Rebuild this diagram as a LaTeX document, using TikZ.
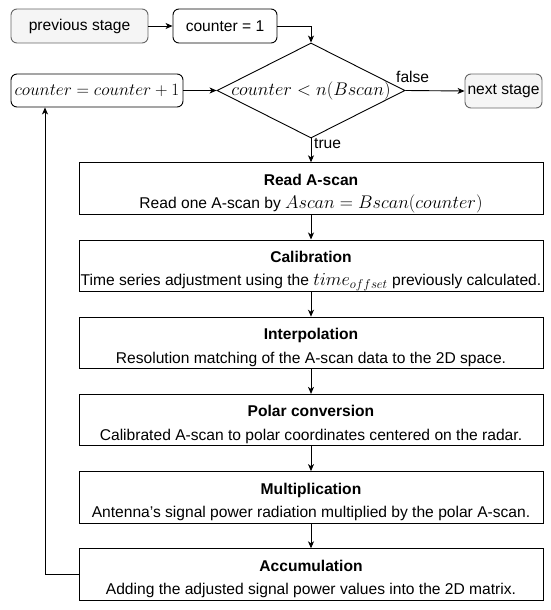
\RequirePackage{fix-cm}
\documentclass[tikz,border=0pt]{standalone}
\usepackage{fontspec}
\setmainfont{Liberation Sans}
\usetikzlibrary{shapes.geometric,arrows.meta}
\definecolor{stagefill}{HTML}{F5F5F5}
\definecolor{stageline}{HTML}{666666}
\newcommand\mth[2][18.3]{{\fontsize{#1}{20}\selectfont$#2$}}
\newcommand\topst{\rule{0pt}{22.5pt}}
\newcommand\botst{\rule[-5.5pt]{0pt}{1pt}}
\tikzset{
  arr/.style={draw=black, line width=0.9pt, -{Stealth[length=7pt,width=6pt,inset=2pt]}},
  base/.style={font=\fontsize{15.6}{23.5}\selectfont, inner sep=0pt, line width=0.9pt},
  stagebox/.style={base, draw=stageline, fill=stagefill, rounded corners=6pt, minimum height=34pt},
  roundbox/.style={base, draw=black, fill=white, rounded corners=6pt, minimum height=34pt},
  procbox/.style={base, draw=black, fill=white, minimum width=464pt, minimum height=51pt, align=center},
  decision/.style={base, draw=black, fill=white, shape=diamond, minimum width=188pt, minimum height=95pt},
  lbl/.style={font=\fontsize{15.6}{18}\selectfont, inner sep=0pt}
}
\begin{document}
\begin{tikzpicture}[x=1pt,y=-1pt]
\useasboundingbox (0,0) rectangle (550,610);
\node[stagebox, minimum width=137pt] (prev) at (79.5,26) {previous stage};
\node[roundbox, minimum width=104pt] (c1) at (225,26) {counter = 1};
\node[decision] (dia) at (311,90.5) {};
\node[base] (diatext) at (dia.center) {\mth{counter < n(Bscan)}};
\node[roundbox, minimum width=172pt, minimum height=33pt] (cp1) at (97,90.5) {\mth[17.3]{counter = counter + 1}};
\node[stagebox, minimum width=77pt] (next) at (503.5,91) {next stage};
\node[procbox] (read) at (311,188.5) {\topst{\bfseries Read A-scan}\\Read one A-scan by \mth{Ascan = Bscan(counter)}\botst};
\node[procbox] (cal) at (311,265.7) {\topst{\bfseries Calibration}\\Time series adjustment using the \mth{time_{offset}} previously calculated.\botst};
\node[procbox] (interp) at (311,342.9) {\topst{\bfseries Interpolation}\\Resolution matching of the A-scan data to the 2D space.\botst};
\node[procbox] (polar) at (311,420.1) {\topst{\bfseries Polar conversion}\\Calibrated A-scan to polar coordinates centered on the radar.\botst};
\node[procbox] (mult) at (311,497.3) {\topst{\bfseries Multiplication}\\Antenna’s signal power radiation multiplied by the polar A-scan.\botst};
\node[procbox] (acc) at (311,574.5) {\topst{\bfseries Accumulation}\\Adding the adjusted signal power values into the 2D matrix.\botst};
\node[lbl, anchor=south west] (flbl) at (396,83) {false};
\node[lbl, anchor=west] (tlbl) at (314,143.5) {true};
\coordinate (loopx) at (45,0);
\draw[arr] (prev.east) -- (c1.west);
\draw[arr] (c1.east) -| (dia.north);
\draw[arr] (cp1.east) -- (dia.west);
\draw[arr] (dia.east) -- (next.west);
\draw[arr] (dia.south) -- (read.north);
\draw[arr] (read.south) -- (cal.north);
\draw[arr] (cal.south) -- (interp.north);
\draw[arr] (interp.south) -- (polar.north);
\draw[arr] (polar.south) -- (mult.north);
\draw[arr] (mult.south) -- (acc.north);
\draw[arr] (acc.west) -| (loopx |- cp1.south);
\end{tikzpicture}
\end{document}
